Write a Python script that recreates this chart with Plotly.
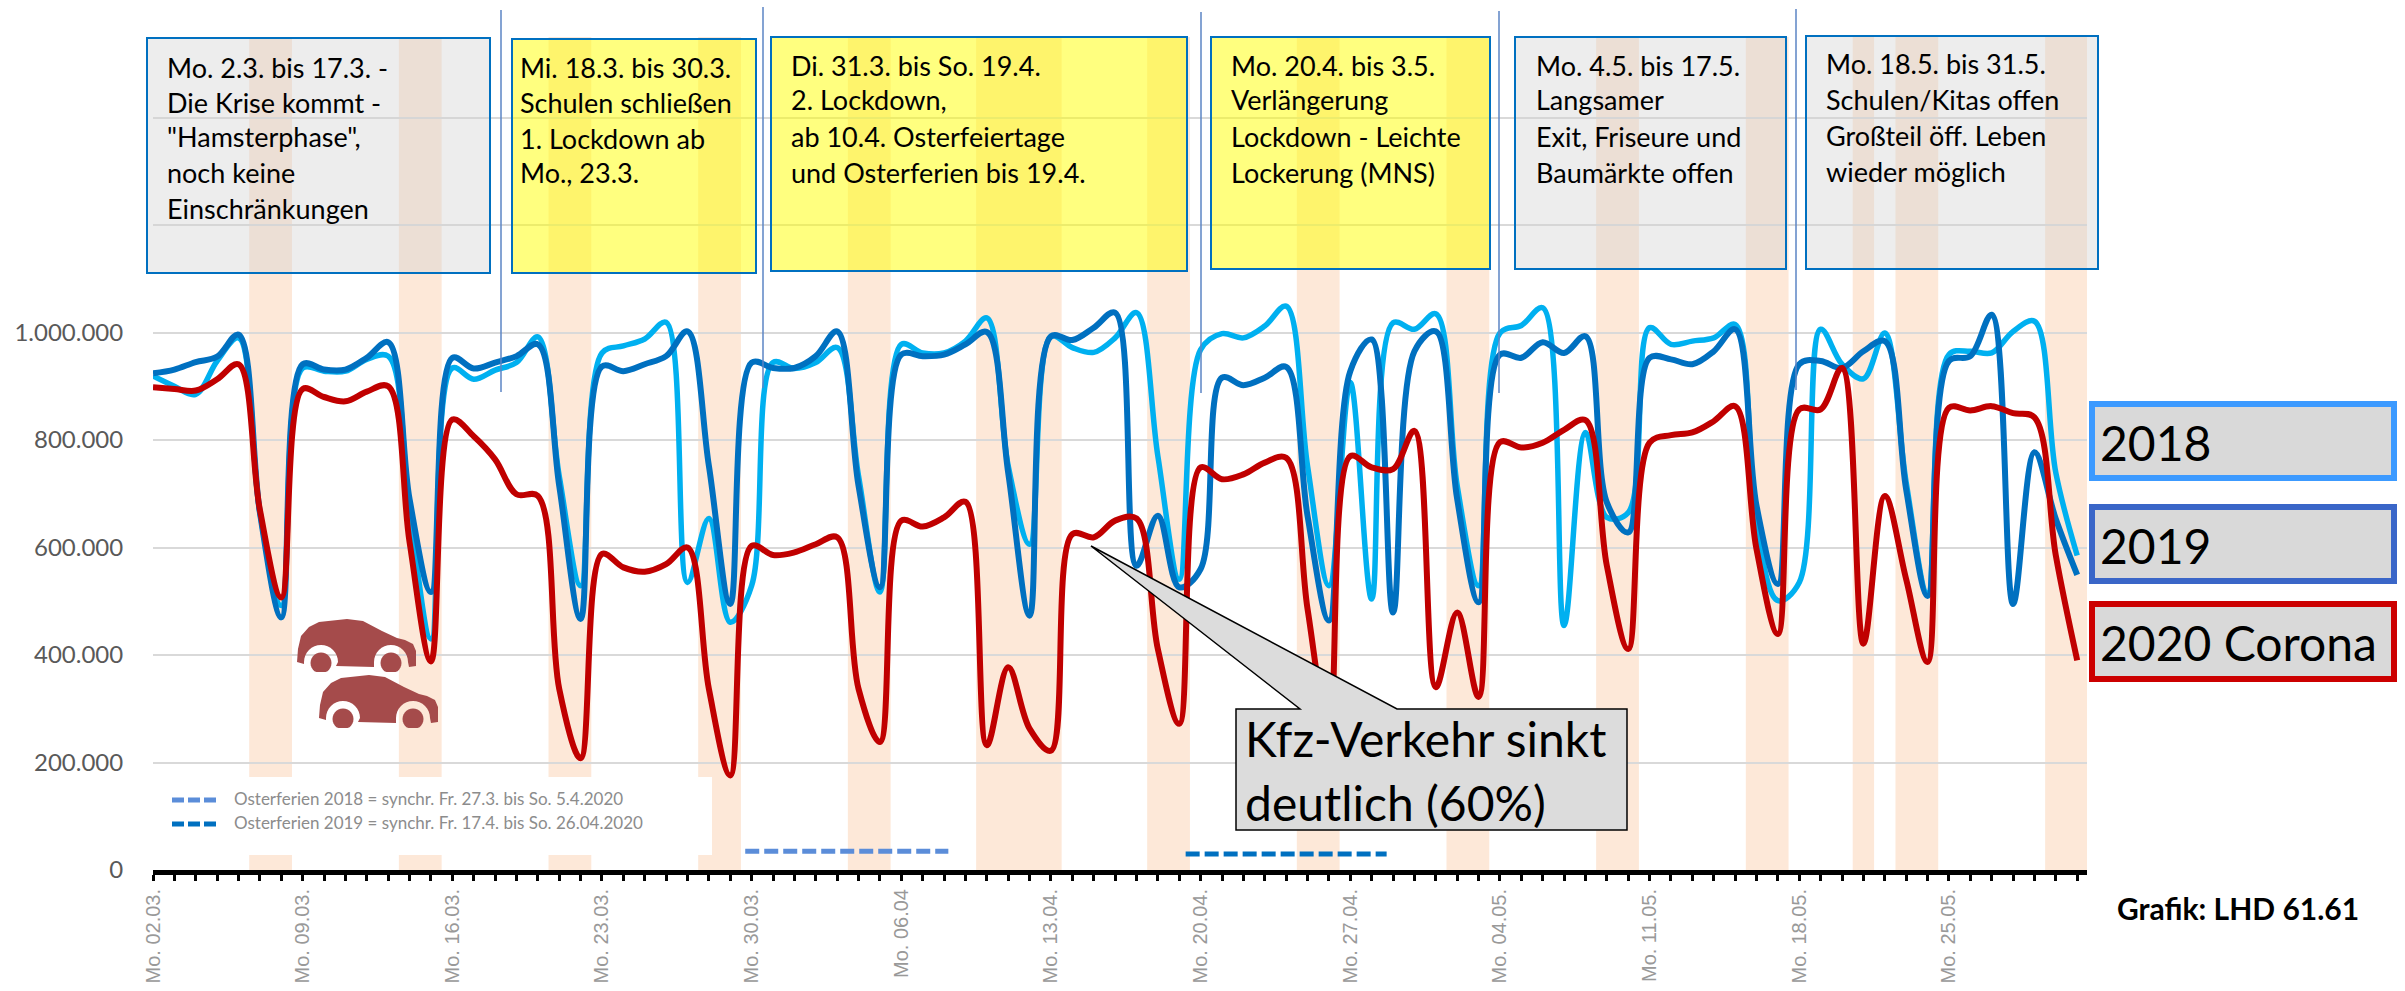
import math
import pandas as pd
import plotly.graph_objects as go

# ---------- data (values in thousands of vehicles per day) ----------
werte_2018 = [919,900,885,947,990,665,492,934,928,928,950,956,665,430,934,
              913,930,944,992,733,529,962,975,988,1019,535,654,461,529,944,
              933,944,972,733,517,978,962,962,984,1027,752,606,993,972,963,
              990,1037,770,541,968,998,990,1012,1049,752,529,907,504,1018,1006,
              1035,715,529,999,1013,1046,455,814,656,665,1009,978,984,990,1015,
              640,501,535,1006,941,914,999,721,515,959,965,962,1002,1021,739,585]
werte_2019 = [924,931,945,955,996,665,470,941,931,931,953,982,690,517,953,
              933,944,956,978,715,467,937,928,941,956,1002,752,495,944,934,
              934,956,1002,715,526,959,956,959,978,1001,739,473,993,986,1009,
              1037,566,659,526,560,916,902,916,936,659,464,928,987,479,965,
              1002,690,498,959,953,982,962,993,684,628,953,950,941,965,1006,
              678,532,941,947,934,965,984,708,510,947,956,1033,495,777,653,549]
werte_2020 = [898,895,892,913,941,670,507,895,880,872,890,900,610,388,838,
              807,764,699,696,337,208,588,563,555,569,600,337,176,603,586,
              591,606,619,337,238,650,639,656,685,232,377,263,222,625,619,
              650,654,411,272,749,727,736,758,767,486,260,770,749,746,817,
              340,479,322,796,786,795,819,837,566,411,795,809,814,835,863,
              597,439,857,857,934,421,696,541,387,860,855,863,850,842,585,390]
start_datum = "2020-03-02"
wochenende_von = [4.5,11.5,18.5,25.5,32.5,38.5,46.5,53.5,60.5,67.5,74.5,79.5,81.5,88.5]
wochenende_bis = [6.5,13.5,20.5,27.5,34.5,42.5,48.5,55.5,62.5,69.5,76.5,80.5,83.5,90.5]
ferien_2018_tage = [27.7, 37.2]
ferien_2018_wert = [35, 35]
ferien_2019_tage = [48.3, 57.7]
ferien_2019_wert = [30, 30]
y_ticks = [0, 200, 400, 600, 800, 1000, 1200, 1400]
y_labels = ["0", "200.000", "400.000", "600.000", "800.000", "1.000.000", "", ""]

tage = list(range(len(werte_2020)))
daten = pd.date_range(start_datum, periods=len(tage))
x_labels = []
for t, d in zip(tage, daten):
    if t % 7 == 0:
        s = "Mo. " + d.strftime("%d.%m.")
        if d.strftime("%d.%m") == "06.04":
            s = s[:-1]
        x_labels.append(s)
    else:
        x_labels.append("")

# ---------- frame ----------
W, H = 2405, 991
L, R, T, B = 153, 2087, 37, 870
FONT = "Lato"

def px(x):
    return (x - L) / (R - L)

def py(y):
    return (B - y) / (B - T)

def path_of(points):
    return "M " + " L ".join(f"{px(x):.5f},{py(y):.5f}" for x, y in points) + " Z"

def circle_pts(cx, cy, r, a0=0, a1=360, n=24):
    return [(cx + r * math.cos(math.radians(a0 + (a1 - a0) * i / n)),
             cy + r * math.sin(math.radians(a0 + (a1 - a0) * i / n))) for i in range(n + 1)]

shapes = []
annots = []

def rect(x0, y0, x1, y1, fill, line=None, width=0, layer="above"):
    shapes.append(dict(type="rect", xref="paper", yref="paper", x0=px(x0), x1=px(x1),
                       y0=py(y0), y1=py(y1), fillcolor=fill, layer=layer,
                       line=dict(color=line or "rgba(0,0,0,0)", width=width)))

def seg(x0, y0, x1, y1, color, width, dash=None):
    shapes.append(dict(type="line", xref="paper", yref="paper", x0=px(x0), x1=px(x1),
                       y0=py(y0), y1=py(y1), layer="above",
                       line=dict(color=color, width=width, dash=dash)))

def text(x, y, s, size, color="#000000", bold=False):
    annots.append(dict(xref="paper", yref="paper", x=px(x), y=py(y), text=f"<b>{s}</b>" if bold else s,
                       showarrow=False, xanchor="left", yanchor="middle", align="left",
                       font=dict(family=FONT, size=size, color=color), borderpad=0, borderwidth=0))

# weekend / holiday bands
for a, b in zip(wochenende_von, wochenende_bis):
    shapes.append(dict(type="rect", xref="x", yref="paper", x0=a, x1=b, y0=0, y1=1,
                       fillcolor="#FDE8D8", line=dict(width=0), layer="below"))
# white panel behind the holiday key
rect(L, 777, 712, 855, "#FFFFFF", layer="below")

# phase separators
for x, y0, y1 in [(501, 10, 392), (763, 7, 388), (1201, 12, 393), (1499, 11, 393), (1796, 9, 390)]:
    seg(x, y0, x, y1, "#5B84C4", 1.5)

# phase boxes
GRAU = "rgba(210,210,210,0.4)"
GELB = "rgba(255,255,0,0.5)"
BOX = "#0070C0"
boxes = [
    (147, 38, 490, 273, GRAU, 167, [67, 102, 137, 173, 208],
     ["Mo. 2.3. bis 17.3. -", "Die Krise kommt -", "\"Hamsterphase\",", "noch keine", "Einschränkungen"]),
    (512, 39, 756, 273, GELB, 520, [67, 102, 138, 173],
     ["Mi. 18.3. bis 30.3.", "Schulen schließen", "1. Lockdown ab", "Mo., 23.3."]),
    (771, 37, 1187, 271, GELB, 791, [65, 100, 136, 172],
     ["Di. 31.3. bis So. 19.4.", "2. Lockdown,", "ab 10.4. Osterfeiertage", "und Osterferien bis 19.4."]),
    (1211, 37, 1490, 269, GELB, 1231, [65, 100, 136, 172],
     ["Mo. 20.4. bis 3.5.", "Verlängerung", "Lockdown - Leichte", "Lockerung (MNS)"]),
    (1515, 37, 1786, 269, GRAU, 1536, [65, 100, 136, 172],
     ["Mo. 4.5. bis 17.5.", "Langsamer", "Exit, Friseure und", "Baumärkte offen"]),
    (1806, 36, 2098, 269, GRAU, 1826, [63, 99, 135, 171],
     ["Mo. 18.5. bis 31.5.", "Schulen/Kitas offen", "Großteil öff. Leben", "wieder möglich"]),
]
for x0, y0, x1, y1, fill, tx, ys, lines in boxes:
    rect(x0, y0, x1, y1, fill, BOX, 2)
    for y, s in zip(ys, lines):
        text(tx, y, s, 27)

# series key boxes
for y0, y1, col, s in [(404, 478, "#3C9AFF", "2018"), (507, 581, "#3A66C8", "2019"), (604, 679, "#CC0000", "2020 Corona")]:
    rect(2092, y0, 2394, y1, "#D9D9D9", col, 6)
    text(2100, (y0 + y1) / 2 + 1, s, 48, "#000000")

text(2117, 908, "Grafik: LHD 61.61", 30, "#000000", bold=True)

# holiday key
seg(172, 800, 219, 800, "#5B8DD9", 5, "12px,4px")
seg(172, 824, 219, 824, "#0070C0", 5, "12px,4px")
text(234, 798, "Osterferien 2018 = synchr. Fr. 27.3. bis So. 5.4.2020", 17, "#8C8C8C")
text(234, 822, "Osterferien 2019 = synchr. Fr. 17.4. bis So. 26.04.2020", 17, "#8C8C8C")

# callout
callout = [(1236, 709), (1300, 709), (1091, 546), (1397, 709), (1627, 709), (1627, 830), (1236, 830)]
shapes.append(dict(type="path", xref="paper", yref="paper", path=path_of(callout), layer="above",
                   fillcolor="#DCDCDC", line=dict(color="#000000", width=1.5)))
text(1245, 738, "Kfz-Verkehr sinkt", 48, "#000000")
text(1245, 802, "deutlich (60%)", 48, "#000000")

# cars
CAR = "#A54B4B"
def car(ox, oy):
    def c(x, y):
        return (ox + x, oy + y)
    body = [(0, 43), (1, 30), (4, 17), (12, 8), (22, 3), (50, 0), (66, 2), (85, 12), (100, 19), (108, 21),
            (116, 25), (119, 32), (119, 47), (112, 48)]
    well2 = circle_pts(94, 43, 17, 0, -180, 16)
    mid = [(77, 48), (39, 47)]
    well1 = circle_pts(24, 43, 17, 0, -180, 16)
    tail = [(7, 45)]
    pts = [c(*p) for p in body + well2 + mid + well1 + tail]
    shapes.append(dict(type="path", xref="paper", yref="paper", path=path_of(pts), layer="above",
                       fillcolor=CAR, line=dict(width=0)))
    for wx in (24, 94):
        w = [(x, min(y, 53)) for x, y in circle_pts(wx, 44, 10.5, 0, 360, 28)]
        shapes.append(dict(type="path", xref="paper", yref="paper", path=path_of([c(*p) for p in w]),
                           layer="above", fillcolor=CAR, line=dict(width=0)))

car(297, 619)
car(319, 675)

# ---------- traces ----------
fig = go.Figure()
series = [("2018", werte_2018, "#00B0F0", 5.5), ("2019", werte_2019, "#0070C0", 6), ("2020 Corona", werte_2020, "#C00000", 6)]
for name, vals, col, w in series:
    fig.add_trace(go.Scatter(x=tage, y=vals, name=name, mode="lines",
                             line=dict(color=col, width=w, shape="spline", smoothing=1.0)))
fig.add_trace(go.Scatter(x=ferien_2018_tage, y=ferien_2018_wert, mode="lines", name="Osterferien 2018",
                         line=dict(color="#5B8DD9", width=5, dash="14px,5px")))
fig.add_trace(go.Scatter(x=ferien_2019_tage, y=ferien_2019_wert, mode="lines", name="Osterferien 2019",
                         line=dict(color="#0070C0", width=5, dash="14px,5px")))

fig.update_layout(
    width=W, height=H, showlegend=False, autosize=False,
    margin=dict(l=L, r=W - R, t=T, b=H - B, pad=0),
    paper_bgcolor="#FFFFFF", plot_bgcolor="#FFFFFF",
    shapes=shapes, annotations=annots,
    xaxis=dict(range=[0, (R - L) / 21.38], tickmode="array", tickvals=tage, ticktext=x_labels,
               tickangle=-90, ticks="outside", ticklen=6, tickwidth=3, tickcolor="#000000",
               showline=True, linecolor="#000000", linewidth=5, showgrid=False, zeroline=False,
               tickfont=dict(family="Liberation Sans", size=20, color="#999999"), automargin=False),
    yaxis=dict(range=[0, (B - T) / 107.5 * 200], tickmode="array", tickvals=y_ticks, ticktext=y_labels,
               ticks="outside", ticklen=24, tickcolor="rgba(0,0,0,0)", showline=False,
               gridcolor="#D9D9D9", gridwidth=2, zeroline=False,
               tickfont=dict(family=FONT, size=24, color="#595959"), automargin=False),
)

fig.write_html("out.html", config=dict(displayModeBar=False), post_script="document.body.style.margin='0';")
